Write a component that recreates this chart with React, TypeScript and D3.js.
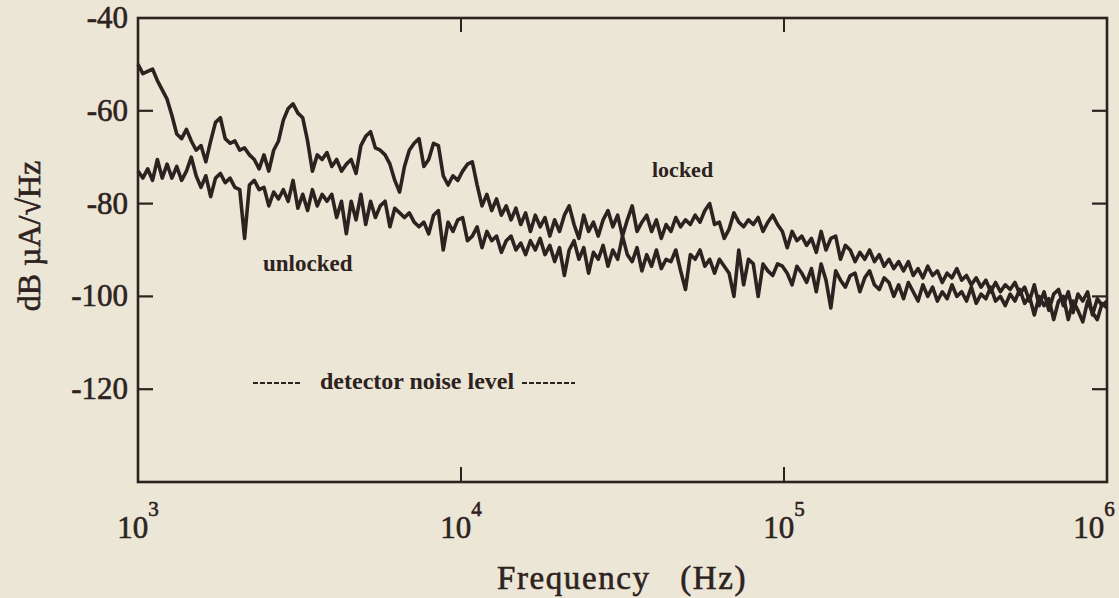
import * as d3 from 'd3'

// frequency grid: log-spaced, one sample every 0.015 decade from 10^3 Hz
const logFreqStart = 3
const logFreqStep = 0.015

// dB µA/√Hz
const lockedDb: number[] = [
  -50, -52, -51.5, -51, -53.5, -55.5, -57.5, -61, -65, -66,
  -64, -66.5, -68.5, -67.5, -71, -66.5, -62.5, -61.5, -66, -67,
  -66.5, -68.5, -68, -69.5, -70.5, -72.5, -69.5, -73, -68.5, -66.5,
  -62, -59.5, -58.5, -60.5, -61.5, -66.5, -73, -69.5, -70.5, -69,
  -72, -70.5, -73, -71.5, -70.5, -73.5, -67.5, -65.5, -64.5, -68,
  -68.5, -69.5, -71.5, -75, -77.5, -72, -68.5, -67, -66, -72,
  -70.5, -67, -67.5, -74, -76, -74, -75, -73, -71.5, -71,
  -76, -80.5, -78, -81.5, -79, -82.5, -80.5, -83.5, -81, -84.5,
  -82, -86, -82.5, -85, -83, -87, -83.5, -86, -82.5, -80.5,
  -84.5, -87.5, -82.5, -86, -84, -87, -83.5, -81.5, -85, -82.5,
  -87, -83.5, -80.5, -86, -84, -82.5, -86, -83.5, -87.5, -84.5,
  -86, -83, -85, -83.5, -84.5, -82.5, -84, -81.5, -80, -84.5,
  -84, -87.5, -85.5, -82, -84, -85, -83.5, -84.5, -83, -86,
  -84, -82.5, -84.5, -86, -89.5, -86, -88, -87, -89, -87.5,
  -90.5, -86, -90, -87.5, -87, -92, -89, -90, -92.5, -90.5,
  -92, -90, -92.5, -91, -93.5, -92, -94, -92.5, -94.5, -92.5,
  -95.5, -94, -96, -93.5, -95.5, -94.5, -97, -95, -96, -94,
  -96.5, -95.5, -97.5, -96, -98, -96.5, -99, -97, -99, -97.5,
  -98.5, -97, -99.5, -98, -101, -97.5, -102, -99, -103, -99.5,
  -98.5, -102, -99, -103.5, -99.5, -101, -99, -104, -100.5, -102,
  -101,
]

const unlockedDb: number[] = [
  -73, -74.5, -72.5, -75, -70.5, -74.5, -71.5, -74.5, -72, -75,
  -73, -70, -74, -76.5, -74, -78.5, -74.5, -73.5, -75.5, -74.5,
  -76.5, -77, -87.5, -76, -75, -77, -76.5, -80.5, -77.5, -79,
  -77, -79.5, -75, -81, -78, -81.5, -77, -80.5, -78, -79.5,
  -78, -83, -79.5, -86.5, -79.5, -83.5, -78, -84.5, -79.5, -83,
  -80.5, -79.5, -85, -81, -82, -83, -82, -84, -85, -84,
  -86.5, -82.5, -81.5, -90, -84, -86, -83.5, -83, -88, -87,
  -85, -89.5, -86, -88, -87, -90.5, -88, -87, -90, -88.5,
  -91, -88, -90, -87.5, -91, -89, -92.5, -89.5, -95.5, -90,
  -88, -92, -89.5, -95, -90.5, -92, -89, -93.5, -90, -92,
  -87, -91, -92.5, -89.5, -94.5, -91, -93.5, -90, -94, -92,
  -92.5, -90, -94.5, -98.5, -91, -92, -90, -93.5, -92, -95,
  -92, -93.5, -95, -100, -90, -97.5, -92, -93, -100, -93,
  -94.5, -95.5, -93, -93.5, -95, -97.5, -93.5, -95, -97, -94,
  -99, -93, -96.5, -102.5, -94.5, -96.5, -98, -95.5, -95, -99,
  -96, -94.5, -97.5, -98.5, -96, -97, -100, -97.5, -100.5, -97,
  -99, -101, -97.5, -100, -98, -101, -99, -100.5, -97.5, -100,
  -99, -101, -98, -101.5, -99.5, -100.5, -98, -101, -100, -102,
  -99.5, -101, -98.5, -101.5, -100, -104, -100, -102, -100.5, -105,
  -101, -100, -105, -101, -103, -105.5, -101, -103.5, -105, -101.5,
  -102.5,
]

const yTicks: number[] = [-40, -60, -80, -100, -120]
const innerYTicks: number[] = [-60, -80, -100, -120]
const xDecades: number[] = [3, 4, 5, 6]
const innerXDecades: number[] = [4, 5]

const W = 1119
const H = 598
const ink = '#2e2220'
const bg = '#ebe6d6'
const serif = '"Liberation Serif", "Times New Roman", serif'
const heavy = { stroke: ink, strokeWidth: 0.6 }

export default function App() {
  const x = d3.scaleLog().domain([1e3, 1e6]).range([138, 1107])
  const y = d3.scaleLinear().domain([-140, -40]).range([482, 18])

  const freq = (i: number) => Math.pow(10, logFreqStart + logFreqStep * i)
  const line = d3.line<number>()
    .x((_, i) => x(freq(i)))
    .y(d => y(d))

  const [x0, x1] = x.range()
  const [yb, yt] = y.range()

  return (
    <svg width={W} height={H} style={{ position: 'absolute', left: 0, top: 0, background: bg }}>
      <rect width={W} height={H} fill={bg} />
      {/* traces */}
      <path d={line(unlockedDb) || ''} fill="none" stroke={ink} strokeWidth={3.6} strokeLinejoin="round" />
      <path d={line(lockedDb) || ''} fill="none" stroke={ink} strokeWidth={3.6} strokeLinejoin="round" />

      {/* frame */}
      <rect x={x0} y={yt} width={x1 - x0} height={yb - yt} fill="none" stroke={ink} strokeWidth={2.6} />

      {/* ticks */}
      {innerYTicks.map(t => (
        <g key={'yt' + t}>
          <line x1={x0} x2={x0 + 15} y1={y(t)} y2={y(t)} stroke={ink} strokeWidth={2.2} />
          <line x1={x1} x2={x1 - 15} y1={y(t)} y2={y(t)} stroke={ink} strokeWidth={2.2} />
        </g>
      ))}
      {innerXDecades.map(p => (
        <g key={'xt' + p}>
          <line x1={x(10 ** p)} x2={x(10 ** p)} y1={yb} y2={yb - 15} stroke={ink} strokeWidth={2} />
          <line x1={x(10 ** p)} x2={x(10 ** p)} y1={yt} y2={yt + 14} stroke={ink} strokeWidth={2} />
        </g>
      ))}

      {/* y tick labels */}
      {yTicks.map(t => (
        <text key={'yl' + t} x={128} y={y(t) + 10} textAnchor="end" fontFamily={serif}
          fontSize={31} fill={ink} {...heavy}>{t < 0 ? '-' + Math.abs(t) : t}</text>
      ))}

      {/* x tick labels */}
      {xDecades.map(p => (
        <text key={'xl' + p} x={Math.min(x(10 ** p), 1094)} y={538} textAnchor="middle"
          fontFamily={serif} fontSize={31} fill={ink} {...heavy}>
          10<tspan dy={-22} fontSize={21}>{p}</tspan>
        </text>
      ))}

      {/* axis titles */}
      <text x={622} y={589} textAnchor="middle" fontFamily={serif} fontSize={33} letterSpacing={1.6}
        fill={ink} {...heavy} style={{ whiteSpace: 'pre' }}>{'Frequency   (Hz)'}</text>
      <text transform="translate(40,236) rotate(-90)" textAnchor="middle" fontFamily={serif}
        fontSize={32} fill={ink} {...heavy}>dB µA/√Hz</text>

      {/* annotations */}
      <text x={652} y={177} fontFamily={serif} fontWeight="bold" fontSize={22} fill={ink}>locked</text>
      <text x={263} y={271} fontFamily={serif} fontWeight="bold" fontSize={23} fill={ink}>unlocked</text>
      <line x1={253} x2={302} y1={383} y2={383} stroke={ink} strokeWidth={2} strokeDasharray="5,2" />
      <text x={320} y={389} fontFamily={serif} fontWeight="bold" fontSize={24} fill={ink}>detector noise level</text>
      <line x1={522} x2={575} y1={383} y2={383} stroke={ink} strokeWidth={2} strokeDasharray="5,2" />
    </svg>
  )
}
